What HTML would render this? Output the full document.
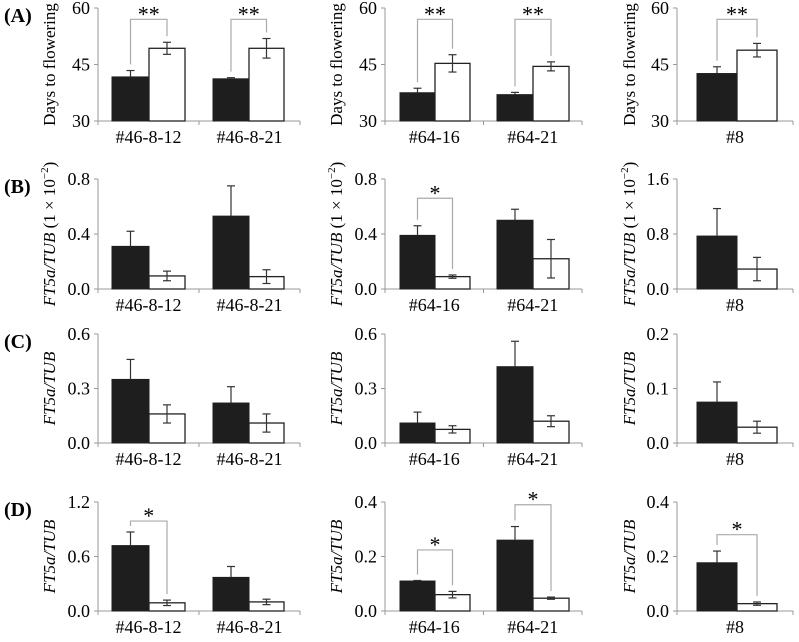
<!DOCTYPE html>
<html><head><meta charset="utf-8"><style>
body{margin:0;background:#fff}
svg, svg text{font-family:"Liberation Serif","Times New Roman",serif}
</style></head><body>
<svg id="fig" width="799" height="637" font-family="Liberation Serif, Times New Roman, serif"></svg>
<script>
// categories
const cats1 = ["#46-8-12","#46-8-21"];
const cats2 = ["#64-16","#64-21"];
const cats3 = ["#8"];
// values per row (black, white) and errors
const aBlack = [[41.7,41.2],[37.5,37.0],[42.6]];
const aWhite = [[49.3,49.3],[45.3,44.5],[48.8]];
const aBErr  = [[1.7,0.3],[1.2,0.6],[1.8]];
const aWErr  = [[1.6,2.6],[2.3,1.2],[1.8]];
const bBlack = [[0.31,0.53],[0.39,0.50],[0.77]];
const bWhite = [[0.095,0.09],[0.09,0.22],[0.29]];
const bBErr  = [[0.11,0.22],[0.07,0.08],[0.40]];
const bWErr  = [[0.035,0.05],[0.012,0.14],[0.17]];
const cBlack = [[0.35,0.22],[0.11,0.42],[0.075]];
const cWhite = [[0.16,0.11],[0.075,0.12],[0.029]];
const cBErr  = [[0.11,0.09],[0.06,0.14],[0.037]];
const cWErr  = [[0.05,0.05],[0.02,0.03],[0.011]];
const dBlack = [[0.72,0.37],[0.11,0.26],[0.177]];
const dWhite = [[0.09,0.10],[0.06,0.047],[0.027]];
const dBErr  = [[0.15,0.12],[0.002,0.05],[0.043]];
const dWErr  = [[0.03,0.03],[0.012,0.004],[0.006]];
// tick labels
const aTicks = [["30","45","60"],["30","45","60"],["30","45","60"]];
const bTicks = [["0.0","0.4","0.8"],["0.0","0.4","0.8"],["0.0","0.8","1.6"]];
const cTicks = [["0.0","0.3","0.6"],["0.0","0.3","0.6"],["0.0","0.1","0.2"]];
const dTicks = [["0.0","0.6","1.2"],["0.0","0.2","0.4"],["0.0","0.2","0.4"]];
// significance: [group index, bracket level (data units), label]
const aSig = [[[0,57,"**"],[1,57,"**"]],[[0,57,"**"],[1,57,"**"]],[[0,57,"**"]]];
const bSig = [[],[[0,0.66,"*"]],[]];
const cSig = [[],[],[]];
const dSig = [[[0,0.99,"*"]],[[0,0.224,"*"],[1,0.39,"*"]],[[0,0.28,"*"]]];

const NS="http://www.w3.org/2000/svg";
const svg=document.getElementById('fig');
const FF="Liberation Serif, Times New Roman, serif";
function el(t,a,p){const e=document.createElementNS(NS,t);for(const k in a)e.setAttribute(k,a[k]);if(t==='text')e.setAttribute('font-family',FF);(p||svg).appendChild(e);return e;}

const cols=[{x0:98,x1:300,bars:[[112,149,185],[213,249,284]],cats:cats1,lab:50},
            {x0:385,x1:582,bars:[[400,435,470],[497,533,569]],cats:cats2,lab:337},
            {x0:677,x1:793,bars:[[697,737,777]],cats:cats3,lab:630}];
const rows=[{top:8,bot:121,lbl:"(A)",ticks:aTicks,bk:aBlack,wh:aWhite,be:aBErr,we:aWErr,sig:aSig,yl:"days"},
            {top:179,bot:289,lbl:"(B)",ticks:bTicks,bk:bBlack,wh:bWhite,be:bBErr,we:bWErr,sig:bSig,yl:"b"},
            {top:334,bot:443,lbl:"(C)",ticks:cTicks,bk:cBlack,wh:cWhite,be:cBErr,we:cWErr,sig:cSig,yl:"c"},
            {top:502,bot:611,lbl:"(D)",ticks:dTicks,bk:dBlack,wh:dWhite,be:dBErr,we:dWErr,sig:dSig,yl:"c"}];

rows.forEach((r,ri)=>{
  const pl=el('text',{x:4,y:r.top+14,'font-size':20,'font-weight':'bold'});pl.textContent=r.lbl;
  
  
  cols.forEach((c,ci)=>{
    const g=el('g',{});
    
    
    const tk=r.ticks[ci];
    const lo=parseFloat(tk[0]),hi=parseFloat(tk[tk.length-1]);
    const y=v=>r.bot-(v-lo)/(hi-lo)*(r.bot-r.top);
    el('line',{x1:c.x0,y1:r.top,x2:c.x0,y2:r.bot,stroke:'#999','stroke-width':1},g);
    el('line',{x1:c.x0,y1:r.bot,x2:c.x1,y2:r.bot,stroke:'#999','stroke-width':1},g);
    const n=c.cats.length,step=(c.x1-c.x0)/n;
    for(let i=0;i<=n;i++)el('line',{x1:c.x0+i*step,y1:r.bot,x2:c.x0+i*step,y2:r.bot+4,stroke:'#999'},g);
    tk.forEach(t=>{
      el('line',{x1:c.x0-4,y1:y(parseFloat(t)),x2:c.x0,y2:y(parseFloat(t)),stroke:'#999'},g);
      const tt=el('text',{x:c.x0-8,y:y(parseFloat(t))+6,'text-anchor':'end','font-size':18},g);tt.textContent=t;
      
      
    });
    c.cats.forEach((cat,i)=>{
      const ct=el('text',{x:c.x0+(i+0.5)*step,y:r.bot+22,'text-anchor':'middle','font-size':18},g);ct.textContent=cat;
      
      
      const b=c.bars[i];
      const vb=r.bk[ci][i],vw=r.wh[ci][i],eb=r.be[ci][i],ew=r.we[ci][i];
      const rb=el('rect',{x:b[0],y:y(vb),width:b[1]-b[0],height:r.bot-y(vb),fill:'#1e1e1e',stroke:'#1e1e1e'},g);
      
      
      const rw=el('rect',{x:b[1],y:y(vw),width:b[2]-b[1],height:r.bot-y(vw),fill:'#fff',stroke:'#222','stroke-width':1.3},g);
      
      
      const cbx=(b[0]+b[1])/2;
      el('line',{x1:cbx,y1:y(vb+eb),x2:cbx,y2:y(vb),stroke:'#333','stroke-width':1.2},g);
      el('line',{x1:cbx-4,y1:y(vb+eb),x2:cbx+4,y2:y(vb+eb),stroke:'#333','stroke-width':1.2},g);
      const cwx=(b[1]+b[2])/2;
      el('line',{x1:cwx,y1:y(vw+ew),x2:cwx,y2:y(vw-ew),stroke:'#333','stroke-width':1.2},g);
      el('line',{x1:cwx-4,y1:y(vw+ew),x2:cwx+4,y2:y(vw+ew),stroke:'#333','stroke-width':1.2},g);
      el('line',{x1:cwx-4,y1:y(vw-ew),x2:cwx+4,y2:y(vw-ew),stroke:'#333','stroke-width':1.2},g);
    });
    r.sig[ci].forEach(s=>{
      const b=c.bars[s[0]],i=s[0];
      const bx=(b[0]+b[1])/2,wx=(b[1]+b[2])/2,by=y(s[1]);
      const tb=y(r.bk[ci][i]+r.be[ci][i])-6,tw=y(r.wh[ci][i]+r.we[ci][i])-6;
      const p=el('path',{d:`M${bx},${tb}V${by}H${wx}V${tw}`,fill:'none',stroke:'#aaa','stroke-width':1.2},g);
      
      
      const st=el('text',{x:(bx+wx)/2,y:by+2,'text-anchor':'middle','font-size':22},g);st.textContent=s[2];
      
      
    });
    const cy=(r.top+r.bot)/2;
    const yt=el('text',{transform:`translate(${c.lab+5},${cy}) rotate(-90)`,'text-anchor':'middle','font-size':17},g);
    
    
    if(r.yl==='days'){yt.textContent='Days to flowering';}
    else{
      const t1=el('tspan',{'font-style':'italic'},yt);t1.textContent='FT5a/TUB';
      if(r.yl==='b'){
        const t2=el('tspan',{},yt);t2.textContent=' (1 × 10';
        const t3=el('tspan',{dy:-7,'font-size':11},yt);t3.textContent='−2';
        const t4=el('tspan',{dy:7},yt);t4.textContent=')';
      }
    }
  });
});
</script>
</body></html>
